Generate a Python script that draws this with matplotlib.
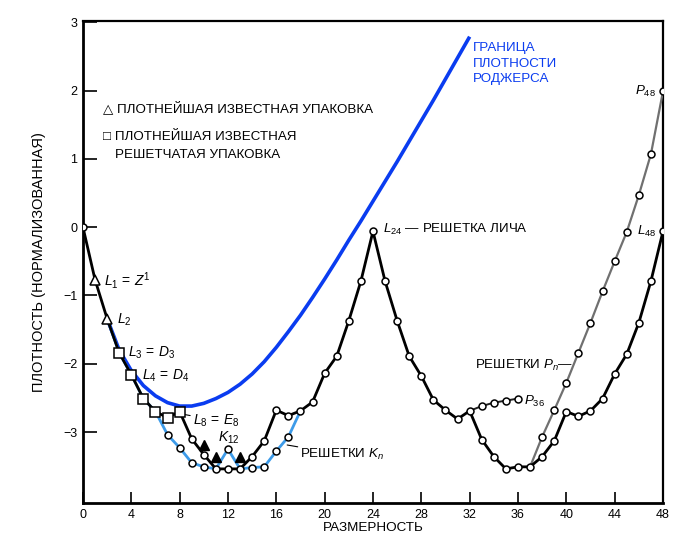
import numpy as np
import matplotlib
matplotlib.use("Agg")
import matplotlib.pyplot as plt

plt.rcParams['font.family'] = ['Liberation Sans', 'DejaVu Sans']
plt.rcParams['mathtext.fontset'] = 'custom'
plt.rcParams['mathtext.rm'] = 'Liberation Sans'
plt.rcParams['mathtext.it'] = 'Liberation Sans:italic'

# best known lattices L_n, n = 0..48
dims = list(range(0, 49))
best = [0.0, -0.77, -1.34, -1.84, -2.16, -2.51, -2.70, -2.79, -2.70,
        -3.10, -3.33, -3.54, -3.54, -3.54, -3.36, -3.13, -2.68, -2.76,
        -2.69, -2.56, -2.14, -1.89, -1.37, -0.79, -0.06, -0.79, -1.37,
        -1.89, -2.18, -2.53, -2.68, -2.81, -2.69, -3.11, -3.36, -3.54,
        -3.51, -3.51, -3.36, -3.13, -2.70, -2.77, -2.69, -2.51, -2.15,
        -1.86, -1.40, -0.79, -0.06]

# laminated K_n lattices
k_dims = list(range(2, 19))
k_vals = [-1.34, -1.84, -2.16, -2.51, -2.70, -3.04, -3.23, -3.45, -3.51,
          -3.54, -3.25, -3.54, -3.52, -3.51, -3.28, -3.07, -2.69]

# P_n branch up to P36
p36_dims = [32, 33, 34, 35, 36]
p36_vals = [-2.69, -2.62, -2.57, -2.54, -2.51]

# P_n lattices 37..48
pn_dims = list(range(37, 49))
pn_vals = [-3.51, -3.07, -2.68, -2.28, -1.84, -1.40, -0.94, -0.50, -0.07,
           0.47, 1.07, 1.99]

# nonlattice packings (filled triangles)
nl_dims = [10, 11, 13]
nl_vals = [-3.19, -3.37, -3.37]

# Rogers bound
rog_dims = list(range(2, 33))
rog_vals = [-1.34, -1.80, -2.10, -2.32, -2.47, -2.57, -2.62, -2.62, -2.58,
            -2.51, -2.42, -2.30, -2.15, -1.97, -1.76, -1.53, -1.29, -1.03,
            -0.76, -0.48, -0.19, 0.09, 0.38, 0.67, 0.96, 1.26, 1.56, 1.86,
            2.17, 2.48, 2.79]

fig = plt.figure(figsize=(6.8, 5.38), dpi=100)
ax = fig.add_axes([0.122, 0.065, 0.853, 0.896])

lblue = '#3d9be9'
dblue = '#0a3cf0'

ax.plot(rog_dims, rog_vals, color=dblue, lw=2.6, zorder=2, solid_capstyle='butt')
ax.plot(k_dims, k_vals, color=lblue, lw=2.0, zorder=3)
ax.plot(pn_dims, pn_vals, color='#707070', lw=1.6, zorder=3)
ax.plot(p36_dims, p36_vals, color='#202020', lw=1.4, zorder=3)
ax.plot(dims, best, color='black', lw=2.0, zorder=4)

mk = dict(ls='none', mfc='white', mec='black', mew=1.1, zorder=6)
circ_idx = [0] + list(range(9, 49))
ax.plot([dims[i] for i in circ_idx], [best[i] for i in circ_idx], 'o', ms=5, **mk)
ax.plot(dims[1:3], best[1:3], '^', ms=7, **mk)
ax.plot(dims[3:9], best[3:9], 's', ms=6.5, **mk)
ax.plot(k_dims[5:9], k_vals[5:9], 'o', ms=5, **mk)
ax.plot(k_dims[10:11], k_vals[10:11], 'o', ms=5, **mk)
ax.plot(k_dims[12:16], k_vals[12:16], 'o', ms=5, **mk)
ax.plot(p36_dims[1:], p36_vals[1:], 'o', ms=5, **mk)
ax.plot(pn_dims[1:], pn_vals[1:], 'o', ms=5, **mk)
ax.plot(nl_dims, nl_vals, '^', ms=7, color='black', ls='none', zorder=6)

ax.set_xlim(0, 48)
ax.set_ylim(-4.04, 3.02)
ax.set_xticks(range(0, 49, 4))
ax.set_yticks([3, 2, 1, 0, -1, -2, -3])
ax.set_yticklabels(['3', '2', '1', '0', '\u22121', '\u22122', '\u22123'])
ax.tick_params(axis='x', direction='in', length=8, width=1.2, labelsize=9, pad=4)
ax.tick_params(axis='y', direction='in', length=10, width=1.2, labelsize=9, pad=4)
for s in ['left', 'bottom']:
    ax.spines[s].set_linewidth(2.0)
for s in ['top', 'right']:
    ax.spines[s].set_linewidth(1.6)

ax.set_xlabel('РАЗМЕРНОСТЬ', fontsize=9.7, labelpad=1)
ax.set_ylabel('ПЛОТНОСТЬ (НОРМАЛИЗОВАННАЯ)', fontsize=10.5, labelpad=12)

fs = 9.6
mfs = 10
ax.text(32.3, 2.71, 'ГРАНИЦА\nПЛОТНОСТИ\nРОДЖЕРСА', color=dblue, fontsize=fs,
        va='top', ha='left', linespacing=1.4)
ax.text(1.66, 1.74, '\u25b3 ПЛОТНЕЙШАЯ ИЗВЕСТНАЯ УПАКОВКА', fontsize=fs, va='center')
ax.text(1.66, 1.32, '\u25a1 ПЛОТНЕЙШАЯ ИЗВЕСТНАЯ', fontsize=fs, va='center')
ax.text(2.65, 1.05, 'РЕШЕТЧАТАЯ УПАКОВКА', fontsize=fs, va='center')

ax.text(1.75, -0.78, r'$L_1\,=\,Z^1$', fontsize=mfs, va='center')
ax.text(2.8, -1.36, r'$L_2$', fontsize=mfs, va='center')
ax.text(3.7, -1.84, r'$L_3\,=\,D_3$', fontsize=mfs, va='center')
ax.text(4.9, -2.17, r'$L_4\,=\,D_4$', fontsize=mfs, va='center')
ax.annotate(r'$L_8\,=\,E_8$', xy=(8.3, -2.74), xytext=(9.1, -2.83),
            fontsize=mfs, va='center',
            arrowprops=dict(arrowstyle='-', lw=0.8, color='black', shrinkA=0, shrinkB=0))
ax.text(11.2, -3.09, r'$K_{12}$', fontsize=mfs, va='center')
ax.annotate(r'РЕШЕТКИ $K_n$', xy=(16.9, -3.19), xytext=(18.0, -3.33),
            fontsize=fs, va='center',
            arrowprops=dict(arrowstyle='-', lw=0.8, color='black', shrinkA=0, shrinkB=0))
ax.text(24.85, -0.03, r'$L_{24}$ — РЕШЕТКА ЛИЧА', fontsize=fs, va='center')
ax.text(40.55, -2.02, r'РЕШЕТКИ $P_n$—', fontsize=fs, va='center', ha='right')
ax.text(36.5, -2.55, r'$P_{36}$', fontsize=fs, va='center')
ax.text(47.4, 1.99, r'$P_{48}$', fontsize=fs, va='center', ha='right')
ax.text(47.45, -0.06, r'$L_{48}$', fontsize=fs, va='center', ha='right')

fig.savefig('out.png', dpi=100)
